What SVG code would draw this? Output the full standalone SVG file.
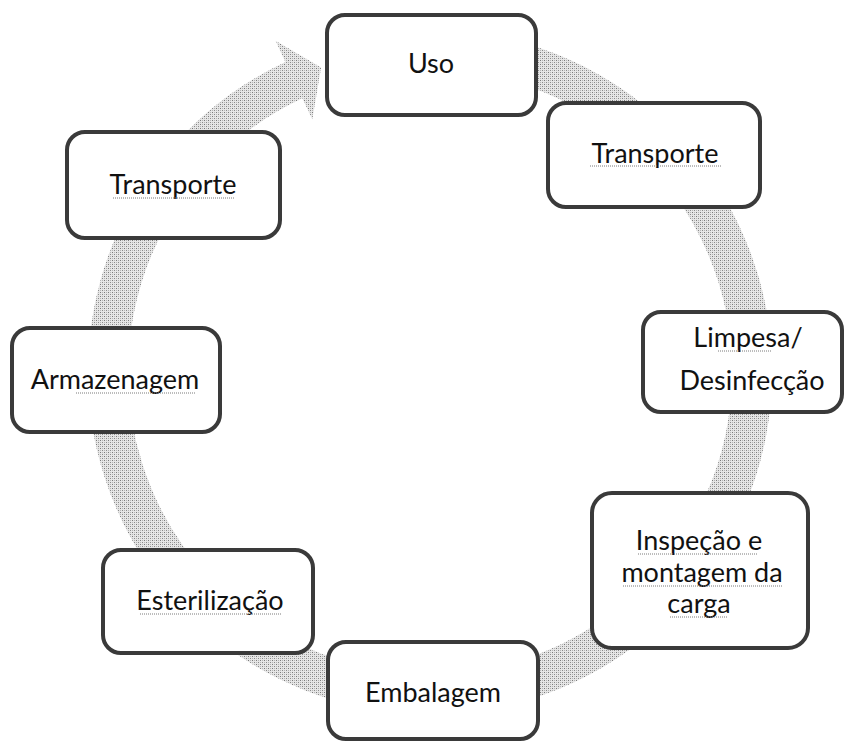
<svg xmlns="http://www.w3.org/2000/svg" width="844" height="741" viewBox="0 0 844 741">
  <defs>
    <pattern id="stipple" width="4" height="4" patternUnits="userSpaceOnUse">
      <rect width="4" height="4" fill="#e6e6e6"/>
      <rect x="0" y="0" width="1" height="1" fill="#7a7a7a"/>
      <rect x="2" y="2" width="1" height="1" fill="#8a8a8a"/>
      <rect x="2" y="0" width="1" height="1" fill="#b4b4b4"/>
      <rect x="0" y="2" width="1" height="1" fill="#b4b4b4"/>
    </pattern>
  </defs>
  <style>
    .box { fill: #ffffff; stroke: #3a3a3a; stroke-width: 4; }
    .lbl { font-family: Lato, "Open Sans", sans-serif; font-size: 27px; fill: #111111; text-anchor: middle; }
    .squig { stroke: #7a7a7a; stroke-width: 1; stroke-dasharray: 1 1; fill: none; }
    .ring { fill: none; stroke: url(#stipple); stroke-width: 40; }
  </style>
  <rect width="844" height="741" fill="#ffffff"/>

  <g id="connectors">
    <path class="ring" d="M 485.9 54.9 A 322 322 0 1 1 293.9 80.2"/>
    <polygon points="275.5,40.8 321.1,67.5 312.3,119.6" fill="url(#stipple)"/>
  </g>

  <g id="node-uso">
    <rect class="box" x="327" y="15" width="209" height="100" rx="18"/>
    <text class="lbl" x="431" y="73">Uso</text>
  </g>

  <g id="node-transporte-1">
    <rect class="box" x="548" y="103" width="212" height="104" rx="18"/>
    <text class="lbl" x="655" y="163">Transporte</text>
    <line class="squig" x1="590" y1="166" x2="722" y2="166"/>
  </g>

  <g id="node-limpesa">
    <rect class="box" x="643" y="312" width="199" height="100" rx="18"/>
    <text class="lbl" x="748" y="347">Limpesa/</text>
    <text class="lbl" x="752" y="390">Desinfecção</text>
    <line class="squig" x1="718" y1="351" x2="772" y2="351"/>
  </g>

  <g id="node-inspecao">
    <rect class="box" x="592" y="493" width="216" height="155" rx="20"/>
    <text class="lbl" x="699" y="550">Inspeção e</text>
    <text class="lbl" x="702" y="582">montagem da</text>
    <text class="lbl" x="699" y="613">carga</text>
    <line class="squig" x1="638" y1="554" x2="758" y2="554"/>
    <line class="squig" x1="623" y1="586" x2="782" y2="586"/>
    <line class="squig" x1="670" y1="617" x2="727" y2="617"/>
  </g>

  <g id="node-embalagem">
    <rect class="box" x="328" y="642" width="210" height="97" rx="18"/>
    <text class="lbl" x="433" y="702">Embalagem</text>
  </g>

  <g id="node-esterilizacao">
    <rect class="box" x="103" y="550" width="210" height="103" rx="18"/>
    <text class="lbl" x="210" y="610">Esterilização</text>
    <line class="squig" x1="140" y1="614" x2="282" y2="614"/>
  </g>

  <g id="node-armazenagem">
    <rect class="box" x="12" y="328" width="208" height="104" rx="18"/>
    <text class="lbl" x="115" y="389">Armazenagem</text>
    <line class="squig" x1="76" y1="393" x2="196" y2="393"/>
  </g>

  <g id="node-transporte-2">
    <rect class="box" x="67" y="132" width="213" height="106" rx="18"/>
    <text class="lbl" x="173" y="194">Transporte</text>
    <line class="squig" x1="113" y1="198" x2="235" y2="198"/>
  </g>
</svg>
